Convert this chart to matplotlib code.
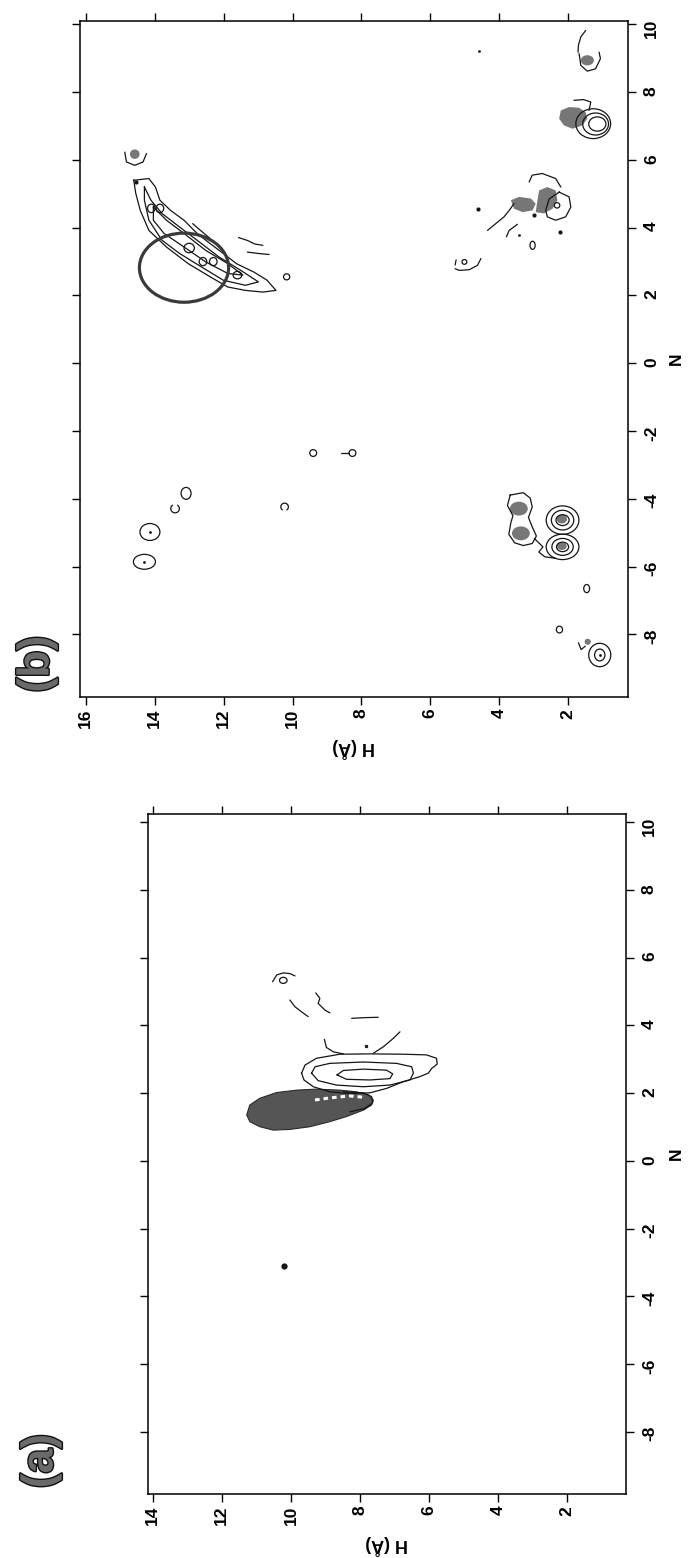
import numpy as np
import matplotlib.pyplot as plt
from matplotlib.patches import Ellipse, Polygon, Arc
import matplotlib.patheffects as pe

plt.rcParams['font.family'] = ['Liberation Sans', 'DejaVu Sans']
plt.rcParams['axes.unicode_minus'] = False

# ----------------------------------------
# Data read off the (rotated) map: H (Angstrom) vs N
# every shape is a list of (H, N) points
# ----------------------------------------

# panel (a)
a_h_ticks = [14, 12, 10, 8, 6, 4, 2]
a_n_ticks = [-8, -6, -4, -2, 0, 2, 4, 6, 8, 10]

a_blob = [(11.28, 1.36), (11.19, 1.65), (10.90, 1.85), (10.41, 2.02), (9.83, 2.09),
          (9.26, 2.12), (8.58, 2.09), (8.10, 2.04), (7.76, 1.95), (7.61, 1.80),
          (7.66, 1.65), (7.90, 1.50), (8.39, 1.31), (8.87, 1.16), (9.45, 1.01),
          (10.03, 0.93), (10.51, 0.91), (10.90, 1.01), (11.19, 1.16)]
a_blob_white = [(9.30, 1.80), (8.87, 1.86), (8.29, 1.92), (7.90, 1.88)]
a_blob_edge = [(8.48, 2.04), (7.90, 2.01), (7.66, 1.90), (7.63, 1.72), (7.86, 1.55), (8.29, 1.45)]

a_outer = [(9.69, 2.59), (9.59, 2.83), (9.26, 3.03), (8.58, 3.15), (7.71, 3.16), (6.74, 3.15),
           (6.07, 3.13), (5.78, 3.03), (5.76, 2.86), (5.92, 2.73), (6.02, 2.59), (6.26, 2.49),
           (6.74, 2.34), (7.23, 2.14), (7.71, 2.01), (8.29, 1.99), (8.87, 2.04), (9.35, 2.19),
           (9.62, 2.39)]
a_middle = [(9.40, 2.59), (9.30, 2.78), (8.87, 2.88), (7.90, 2.92), (6.94, 2.88), (6.50, 2.78),
            (6.45, 2.59), (6.55, 2.39), (7.13, 2.24), (7.90, 2.19), (8.68, 2.24), (9.21, 2.37)]
a_inner = [(8.66, 2.54), (8.48, 2.67), (7.90, 2.71), (7.23, 2.68), (7.05, 2.57), (7.13, 2.43),
           (7.71, 2.39), (8.39, 2.41)]

a_open_lines = [
    [(9.03, 3.59), (8.97, 3.35), (8.77, 3.22), (8.48, 3.16)],
    [(7.61, 3.18), (7.32, 3.37), (7.03, 3.62), (6.84, 3.81)],
    [(8.24, 4.21), (7.85, 4.23), (7.47, 4.24)],
    [(10.03, 4.75), (9.88, 4.55), (9.69, 4.40), (9.50, 4.26)],
    [(9.28, 4.96), (9.16, 4.80), (9.21, 4.65), (9.01, 4.45), (8.87, 4.37)],
    [(10.53, 5.29), (10.41, 5.49), (10.22, 5.55), (10.03, 5.53), (9.88, 5.46)],
]
# small loops: H, N, width, height
a_loops = [(10.22, 5.33, 0.22, 0.18)]
a_dots = [(7.81, 3.39, 2.5), (10.2, -3.1, 4.5)]

# panel (b)
b_h_ticks = [16, 14, 12, 10, 8, 6, 4, 2]
b_n_ticks = [-8, -6, -4, -2, 0, 2, 4, 6, 8, 10]

b_band_outer = [(14.61, 5.40), (14.17, 5.45), (13.98, 5.20), (13.85, 4.81), (13.54, 4.51),
                (13.15, 4.22), (12.77, 3.83), (12.39, 3.53), (12.01, 3.24), (11.63, 2.94),
                (11.12, 2.69), (10.74, 2.45), (10.48, 2.15), (10.86, 2.10), (11.37, 2.15),
                (11.88, 2.25), (12.39, 2.55), (13.03, 2.94), (13.66, 3.43), (14.17, 3.92),
                (14.42, 4.51), (14.55, 5.01)]
b_band_mid = [(14.30, 5.20), (14.11, 4.81), (13.79, 4.42), (13.28, 4.02), (12.77, 3.63),
              (12.14, 3.14), (11.50, 2.74), (10.99, 2.40), (11.37, 2.30), (12.01, 2.45),
              (12.64, 2.84), (13.28, 3.24), (13.79, 3.63), (14.17, 4.22), (14.30, 4.81)]
b_band_in = [(14.04, 4.61), (13.66, 4.22), (13.15, 3.83), (12.52, 3.33), (11.88, 2.94),
             (11.44, 2.60), (11.88, 2.65), (12.52, 2.99), (13.15, 3.43), (13.73, 3.83),
             (14.04, 4.22)]
b_big_circle = (13.15, 2.82, 2.59, 2.04)

b_gray_blobs = [
    [(2.21, 7.46), (1.97, 7.56), (1.68, 7.54), (1.49, 7.41), (1.44, 7.22), (1.58, 7.02),
     (1.87, 6.92), (2.12, 7.02), (2.26, 7.22)],
    [(3.66, 4.81), (3.42, 4.91), (3.08, 4.86), (2.94, 4.71), (3.03, 4.51), (3.32, 4.46),
     (3.57, 4.56)],
    [(2.84, 5.10), (2.60, 5.20), (2.36, 5.10), (2.31, 4.81), (2.45, 4.56), (2.70, 4.42),
     (2.94, 4.46), (2.89, 4.81)],
]
# gray spots: H, N, width, height
b_gray_spots = [(14.58, 6.17, 0.28, 0.28), (1.44, 8.94, 0.38, 0.30),
                (3.43, -4.29, 0.52, 0.41), (3.37, -5.02, 0.52, 0.41),
                (2.18, -4.60, 0.30, 0.26), (2.18, -5.40, 0.28, 0.22), (1.43, -8.22, 0.18, 0.18)]
b_closed_lines = [
    [(3.68, -3.89), (3.30, -3.82), (3.10, -3.98), (3.04, -4.24), (3.15, -4.55), (3.04, -4.83),
     (2.92, -5.10), (3.04, -5.32), (3.30, -5.38), (3.55, -5.30), (3.72, -5.05), (3.66, -4.70),
     (3.60, -4.50), (3.76, -4.20)],
    [(2.26, 5.05), (1.97, 4.91), (1.92, 4.61), (2.07, 4.32), (2.36, 4.22), (2.60, 4.32),
     (2.65, 4.51), (2.55, 4.85)],
]
b_open_lines = [
    [(12.90, 4.12), (12.65, 3.90), (12.39, 3.68)],
    [(11.57, 3.71), (11.30, 3.62), (11.10, 3.52), (10.86, 3.48)],
    [(11.31, 3.28), (11.00, 3.24), (10.68, 3.21)],
    [(14.87, 6.23), (14.82, 5.94), (14.58, 5.84), (14.34, 5.94), (14.24, 6.19)],
    [(1.49, 9.82), (1.63, 9.63), (1.70, 9.38), (1.71, 9.18)],
    [(1.68, 9.14), (1.63, 8.79), (1.44, 8.62), (1.20, 8.69), (1.06, 8.99), (1.10, 9.18)],
    [(1.83, 7.76), (1.55, 7.78), (1.34, 7.71), (1.39, 7.46)],
    [(3.13, 5.35), (3.04, 5.55), (2.75, 5.60), (2.36, 5.45), (2.21, 5.20)],
    [(4.34, 3.92), (4.10, 4.12), (3.86, 4.32), (3.71, 4.51), (3.57, 4.71)],
    [(3.79, 3.73), (3.71, 3.92), (3.47, 4.10)],
    [(5.28, 2.79), (5.16, 2.74), (4.87, 2.76), (4.63, 2.89), (4.53, 3.09)],
    [(5.25, 3.05), (5.28, 2.90)],
    [(2.98, -5.17), (2.73, -5.42), (2.85, -5.57), (2.68, -5.71), (2.35, -5.76)],
    [(1.70, -8.25), (1.62, -8.45), (1.50, -8.35)],
    [(8.58, -2.65), (8.36, -2.65)],
]
# small contour loops: H, N, width, height
b_loops = [
    (14.10, 4.57, 0.22, 0.25), (13.85, 4.57, 0.22, 0.25), (13.00, 3.40, 0.30, 0.28),
    (12.60, 3.00, 0.22, 0.24), (12.30, 3.00, 0.22, 0.24), (11.60, 2.60, 0.25, 0.22),
    (10.17, 2.55, 0.18, 0.18), (5.01, 2.99, 0.14, 0.14), (3.03, 3.48, 0.15, 0.24),
    (1.27, 7.07, 1.01, 0.88), (1.20, 7.06, 0.75, 0.65), (1.15, 7.06, 0.50, 0.42),
    (2.32, 4.66, 0.16, 0.16),
    (14.30, -5.86, 0.64, 0.44), (14.14, -4.98, 0.58, 0.50), (13.09, -3.84, 0.29, 0.35),
    (9.40, -2.65, 0.20, 0.20), (8.26, -2.65, 0.20, 0.20),
    (2.16, -4.63, 0.95, 0.84), (2.16, -4.63, 0.65, 0.58), (2.16, -4.63, 0.38, 0.32),
    (2.16, -5.42, 0.95, 0.75), (2.16, -5.42, 0.62, 0.50), (2.16, -5.42, 0.35, 0.28),
    (1.46, -6.65, 0.17, 0.24), (2.25, -7.86, 0.18, 0.20),
    (1.08, -8.61, 0.64, 0.69), (1.08, -8.61, 0.30, 0.35),
]
# open arcs: H, N, width, height, theta1, theta2
b_arcs = [(13.41, -4.29, 0.25, 0.25, 120, 420), (10.23, -4.24, 0.22, 0.22, 300, 600)]
b_dots = [(14.53, 5.35, 3), (4.60, 9.20, 2), (4.61, 4.56, 3), (3.42, 3.78, 2), (2.24, 3.86, 3),
          (2.99, 4.37, 3), (14.30, -5.86, 2), (14.14, -4.98, 2), (1.08, -8.61, 2)]

LINE = '#151515'
GRAY = '#777777'


def closed(ax, pts, **kw):
    h = [p[0] for p in pts] + [pts[0][0]]
    n = [p[1] for p in pts] + [pts[0][1]]
    ax.plot(h, n, color=LINE, lw=0.9, solid_joinstyle='round', **kw)


def opened(ax, pts, **kw):
    ax.plot([p[0] for p in pts], [p[1] for p in pts], color=LINE, lw=0.9,
            solid_capstyle='round', solid_joinstyle='round', **kw)


def loops(ax, items):
    for h, n, w, ht in items:
        ax.add_patch(Ellipse((h, n), w, ht, fill=False, edgecolor=LINE, lw=0.9))


def style_axes(ax, hticks, nticks, n_x):
    ax.set_xticks(hticks)
    ax.set_yticks(nticks)
    ax.tick_params(which='both', direction='out', length=5.5, width=1.0,
                   top=True, bottom=True, left=True, right=True,
                   labeltop=False, labelleft=False, labelright=True, labelbottom=True,
                   labelsize=12.5, pad=3)
    ax.tick_params(axis='x', labelrotation=90)
    ax.tick_params(axis='y', labelrotation=90, pad=6)
    for lab in ax.get_xticklabels() + ax.get_yticklabels():
        lab.set_fontweight('bold')
    for sp in ax.spines.values():
        sp.set_linewidth(1.1)
    ax.text(0.5, -0.075, 'H (Å)', transform=ax.transAxes, rotation=180,
            ha='center', va='center', fontsize=13, fontweight='bold')
    ax.text(n_x, 0.5, 'N', transform=ax.transAxes, rotation=90,
            ha='center', va='center', fontsize=12.5, fontweight='bold')


fig = plt.figure(figsize=(6.88, 15.58), dpi=100)

# ---------------- panel (a) ----------------
ax_a = fig.add_axes([148 / 688, 64 / 1558, 478 / 688, 680 / 1558])
ax_a.set_xlim(14.14, 0.29)
ax_a.set_ylim(-9.83, 10.24)

ax_a.add_patch(Polygon(a_blob, closed=True, facecolor='#555555', edgecolor='#2a2a2a', lw=0.8))
ax_a.plot([p[0] for p in a_blob_white], [p[1] for p in a_blob_white],
          color='white', lw=2.2, dashes=(1.5, 1.3))
opened(ax_a, a_blob_edge, zorder=3)
for shape in (a_outer, a_middle, a_inner):
    closed(ax_a, shape)
for line in a_open_lines:
    opened(ax_a, line)
loops(ax_a, a_loops)
for h, n, s in a_dots:
    ax_a.plot(h, n, 'o', color=LINE, ms=s, mew=0)
style_axes(ax_a, a_h_ticks, a_n_ticks, (676 - 148) / 478)

# ---------------- panel (b) ----------------
ax_b = fig.add_axes([80 / 688, 861 / 1558, 548 / 688, 676 / 1558])
ax_b.set_xlim(16.17, 0.26)
ax_b.set_ylim(-9.85, 10.1)

for blob in b_gray_blobs:
    ax_b.add_patch(Polygon(blob, closed=True, facecolor=GRAY, edgecolor='none'))
for h, n, w, ht in b_gray_spots:
    ax_b.add_patch(Ellipse((h, n), w, ht, facecolor=GRAY, edgecolor='none'))
for shape in (b_band_outer, b_band_mid, b_band_in):
    closed(ax_b, shape)
for shape in b_closed_lines:
    closed(ax_b, shape)
for line in b_open_lines:
    opened(ax_b, line)
loops(ax_b, b_loops)
for h, n, w, ht, t1, t2 in b_arcs:
    ax_b.add_patch(Arc((h, n), w, ht, theta1=t1, theta2=t2, edgecolor=LINE, lw=0.9))
for h, n, s in b_dots:
    ax_b.plot(h, n, 'o', color=LINE, ms=s, mew=0)
ch, cn, cw, cht = b_big_circle
ax_b.add_patch(Ellipse((ch, cn), cw, cht, fill=False, edgecolor='#3a3a3a', lw=2.3, zorder=4))
style_axes(ax_b, b_h_ticks, b_n_ticks, (676 - 80) / 548)

# panel letters
for x, y, s in [(41 / 688, 1 - 1461 / 1558, '(a)'), (37 / 688, 1 - 664 / 1558, '(b)')]:
    fig.text(x, y, s, rotation=90, ha='center', va='center', fontsize=32,
             fontweight='bold', color='#6a6a6a',
             path_effects=[pe.withStroke(linewidth=2, foreground='#111111')])

fig.savefig('out.png', dpi=100)
